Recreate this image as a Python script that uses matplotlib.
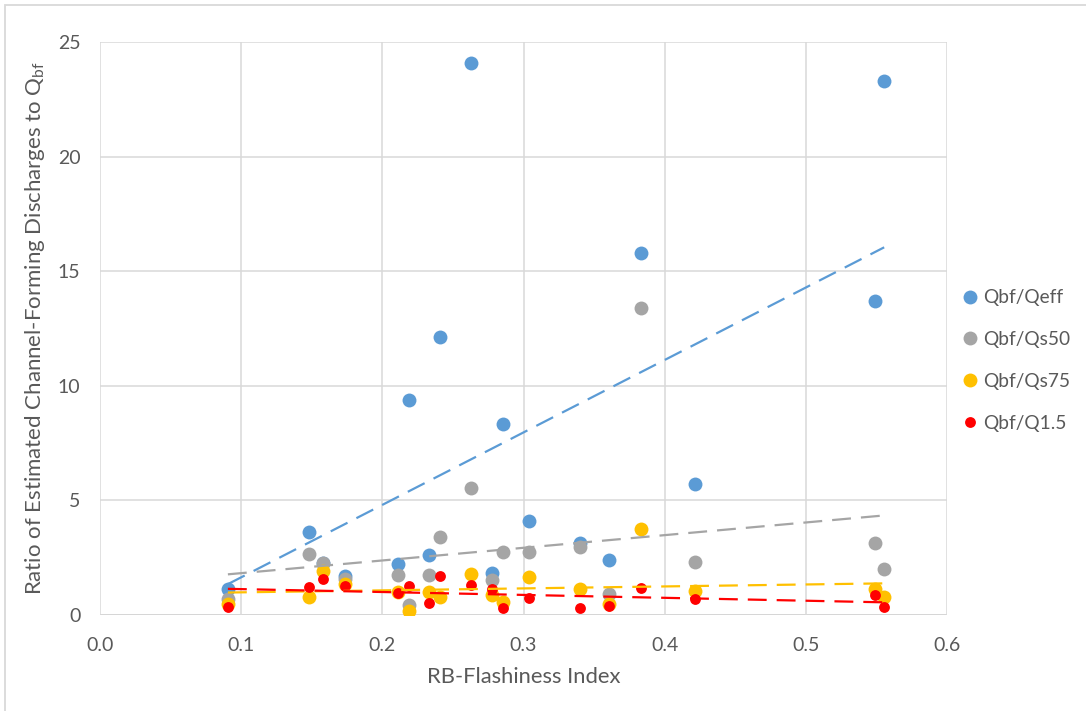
import numpy as np
import matplotlib
matplotlib.use("Agg")
import matplotlib.pyplot as plt
from matplotlib.lines import Line2D
from matplotlib.patches import Rectangle

# RB-Flashiness index for each stream
rb_index = [0.0906, 0.148, 0.158, 0.1735, 0.211, 0.2188, 0.2328, 0.2412, 0.2625,
            0.2777, 0.2856, 0.304, 0.340, 0.3607, 0.383, 0.4214, 0.549, 0.5555]

# Ratios of bankfull discharge to each channel-forming discharge estimate
qbf_qeff = [1.13, 3.62, 2.25, 1.70, 2.22, 9.38, 2.62, 12.12, 24.1,
            1.85, 8.32, 4.10, 3.15, 2.40, 15.8, 5.72, 13.7, 23.3]
qbf_qs50 = [0.68, 2.66, 2.28, 1.56, 1.74, 0.44, 1.74, 3.39, 5.53,
            1.53, 2.73, 2.73, 2.98, 0.92, 13.4, 2.31, 3.13, 1.99]
qbf_qs75 = [0.48, 0.77, 1.93, 1.35, 1.02, 0.19, 1.02, 0.77, 1.79,
            0.87, 0.58, 1.64, 1.12, 0.48, 3.74, 1.06, 1.15, 0.77]
qbf_q15 = [0.33, 1.21, 1.56, 1.28, 0.95, 1.27, 0.54, 1.70, 1.31,
           1.12, 0.29, 0.73, 0.29, 0.39, 1.16, 0.68, 0.87, 0.33]

series_names = ["Qbf/Qeff", "Qbf/Qs50", "Qbf/Qs75", "Qbf/Q1.5"]
series_values = [qbf_qeff, qbf_qs50, qbf_qs75, qbf_q15]
colors = ["#5B9BD5", "#A5A5A5", "#FFC000", "#FF0000"]
marker_sizes = [10.0, 10.0, 10.0, 7.8]

x_ticks = [0.0, 0.1, 0.2, 0.3, 0.4, 0.5, 0.6]
y_ticks = [0, 5, 10, 15, 20, 25]

text_color = "#595959"
grid_color = "#D9D9D9"
font = "Lato"

fig = plt.figure(figsize=(10.86, 7.11), dpi=100)
fig.patch.set_facecolor("white")

# chart-area border
fig.patches.append(Rectangle((5 / 1086, -0.01), 1.02, 1 - 5 / 711 + 0.01,
                             transform=fig.transFigure, fill=False,
                             edgecolor="#D9D9D9", linewidth=1.3))

ax = fig.add_axes([100 / 1086, 1 - 615 / 711, 847 / 1086, 573 / 711])
ax.set_xlim(0, 0.6)
ax.set_ylim(0, 25)
ax.set_xticks(x_ticks)
ax.set_yticks(y_ticks)
ax.set_xticklabels([f"{t:.1f}" for t in x_ticks])
ax.set_yticklabels([str(t) for t in y_ticks])
for s in ax.spines.values():
    s.set_visible(False)
ax.grid(True, color=grid_color, linewidth=1.1, zorder=0)
ax.axhline(0, color="#BFBFBF", linewidth=1.1, zorder=1)
ax.tick_params(length=0, labelcolor=text_color, labelsize=14)
ax.tick_params(axis="x", pad=16)
ax.tick_params(axis="y", pad=14)
for lab in ax.get_xticklabels() + ax.get_yticklabels():
    lab.set_fontfamily(font)

x = np.array(rb_index)
for name, vals, c, ms in zip(series_names, series_values, colors, marker_sizes):
    ax.plot(x, vals, linestyle="none", marker="o", markersize=ms,
            markerfacecolor=c, markeredgewidth=0, color=c, zorder=3)

# linear trendlines over the data range
xs = np.array([x.min(), x.max()])
for vals, c in zip(series_values, colors):
    k, b = np.polyfit(x, np.array(vals), 1)
    ax.plot(xs, k * xs + b, color=c, linewidth=1.6, dashes=(8.5, 4.5),
            zorder=4, solid_capstyle="butt", dash_capstyle="butt")

ax.set_xlabel("RB-Flashiness Index", fontsize=15.8, color=text_color,
              fontfamily=font, labelpad=9)
fig.text(35 / 1086, 1 - 328 / 711,
         r"Ratio of Estimated Channel-Forming Discharges to $\mathregular{Q_{bf}}$",
         rotation=90, ha="center", va="center", fontsize=16,
         color=text_color, fontfamily=font)

handles = [Line2D([], [], linestyle="none", marker="o", markersize=ms,
                  markerfacecolor=c, markeredgewidth=0)
           for c, ms in zip(colors, marker_sizes)]
leg = fig.legend(handles, series_names, loc="upper left",
                 bbox_to_anchor=(945 / 1086, 1 - 272 / 711), frameon=False,
                 handlelength=0.8, handletextpad=0.3, labelspacing=1.3,
                 prop={"family": font, "size": 13.8})
for t in leg.get_texts():
    t.set_color(text_color)

fig.savefig("out.png", dpi=100, facecolor="white")
